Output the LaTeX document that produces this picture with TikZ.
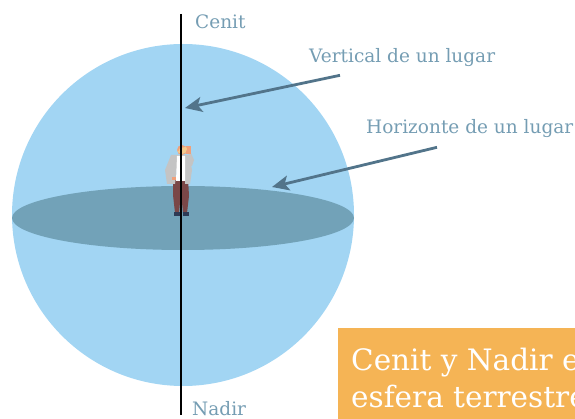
\documentclass[tikz,border=0pt]{standalone}
\usepackage{fontspec}
\setmainfont{DejaVu Serif}
\usetikzlibrary{arrows.meta}
\definecolor{sky}{HTML}{A2D5F3}
\definecolor{plane}{HTML}{72A2B8}
\definecolor{labeltext}{HTML}{759DB3}
\definecolor{pointer}{HTML}{52748A}
\definecolor{banner}{HTML}{F5B455}
\definecolor{skin}{HTML}{F0A07A}
\definecolor{hair}{HTML}{F3CB8E}
\definecolor{jacket}{HTML}{C4C4C4}
\definecolor{pants}{HTML}{7A4747}
\definecolor{shoe}{HTML}{2E3A55}
\tikzset{
  lbl/.style={text=labeltext, font=\fontsize{18.5}{20}\selectfont, inner sep=0pt, anchor=base west},
  pointerarrow/.style={draw=pointer, line width=2.8pt, -{Stealth[length=17pt,width=15pt,inset=4pt]}},
  bannertext/.style={text=white, font=\fontsize{29.5}{34}\selectfont, inner sep=0pt, anchor=base west},
}
\begin{document}
\begin{tikzpicture}[x=1pt,y=-1pt]
\useasboundingbox (0,0) rectangle (575,419);
\begin{scope}
\clip (0,0) rectangle (575,419);
% celestial sphere and horizon plane
\fill[sky] (183,215) circle[radius=171];
\fill[plane] (183,218) ellipse[x radius=171, y radius=32];

% observer standing on the horizon plane
\begin{scope}
  % legs
  \fill[pants] (173,178) -- (188,178) -- (189,196) -- (187,213) -- (183,213) -- (181,192) -- (179,213) -- (175,213) -- (173,195) -- cycle;
  \fill[shoe] (174,212) rectangle (180,216);
  \fill[shoe] (183,212) rectangle (189,216);
  % jacket
  \fill[jacket] (171,155) -- (189,155) -- (192,170) -- (190,184) -- (185,184) -- (185,160) -- (178,160) -- (175,184) -- (167,184) -- (165,170) -- cycle;
  % shirt
  \fill[white] (177,156) -- (185,156) -- (185,181) -- (176,181) -- cycle;
  % hand on the hip
  \fill[skin] (172,177) rectangle (176,180);
  % raised arm holding a phone
  \fill[jacket] (187,156) -- (191,153) -- (194,160) -- (192,166) -- (188,166) -- cycle;
  \fill[skin] (186,146) rectangle (191,154);
  % head
  \fill[skin] (182,150) circle[radius=5];
  \fill[hair] (177,149) arc[start angle=180, end angle=0, radius=5] -- (186,147) -- (180,148) -- (178,152) -- cycle;
\end{scope}

% vertical of the place
\draw[line width=2.4pt] (181,14) coordinate (zen) -- (181,415) coordinate (nad);

% labels
\node[lbl] (cenit) at (195,29) {Cenit};
\node[lbl] (nadir) at (192,415) {Nadir};
\node[lbl] (vert) at (309,63) {Vertical de un lugar};
\node[lbl] (hor) at (366,134) {Horizonte de un lugar};

% pointers
\coordinate (vtip) at (185,108);
\coordinate (htip) at (272,187);
\draw[pointerarrow] ([xshift=31pt,yshift=-8pt]vert.south west) -- (vtip);
\draw[pointerarrow] ([xshift=71pt,yshift=-9pt]hor.south west) -- (htip);

% title banner
\fill[banner] (338,328) rectangle (600,430);
\node[bannertext] (title1) at (351,370) {Cenit y Nadir e};
\node[bannertext] (title2) at (351,407) {esfera terrestre};
\end{scope}
\end{tikzpicture}
\end{document}
